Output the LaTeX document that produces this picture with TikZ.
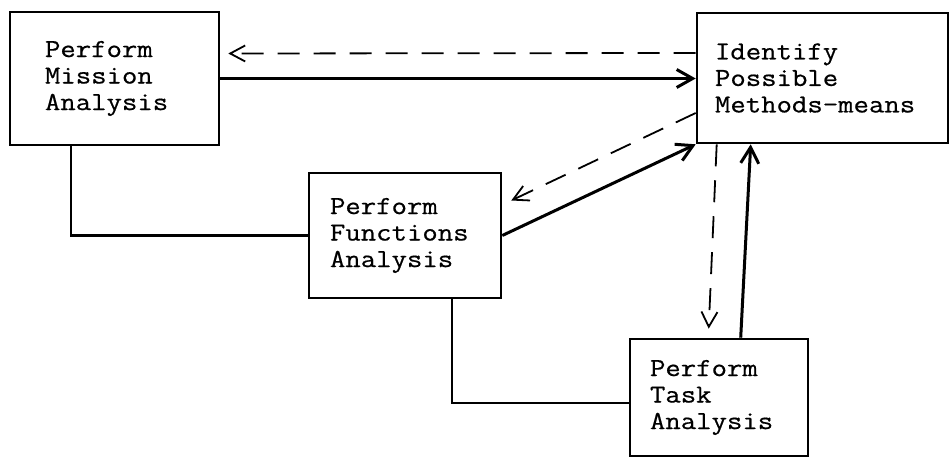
\documentclass[tikz,border=0pt]{standalone}
\usepackage{fontspec}
\newfontfamily\typewriter[FakeStretch=1.15, FakeBold=0.6]{Latin Modern Mono}
\usepackage{tikz}
\usetikzlibrary{arrows.meta}
\usetikzlibrary{calc}
\tikzset{ step_box/.style = {rectangle, draw, line width=2.6pt, align=left, inner ysep=0pt, font=\typewriter\fontsize{26}{26.5}\selectfont} }
\tikzset{ flow/.style = {line width=3pt, -{Straight Barb[length=16pt, width=18pt]}} }
\tikzset{ back_flow/.style = {line width=1.8pt, dash pattern=on 22pt off 14pt, -{Straight Barb[length=15pt, width=16pt]}} }
\tikzset{ link/.style = {line width=2.3pt} }

\begin{document}
\begin{tikzpicture}[x=1pt, y=-1pt]
                        \useasboundingbox (0,0) rectangle (952,457);
                        \node[step_box, text width=139pt, inner xsep=35pt, minimum height=133pt] (mission) at (114.5, 78.5) {Perform\\Mission\\Analysis};
                        \node[step_box, text width=215pt, inner xsep=18pt, minimum height=130pt] (identify) at (822.5, 78) {Identify\\Possible\\Methods-means};
                        \node[step_box, text width=150pt, inner xsep=21pt, minimum height=125pt] (functions) at (405, 235.5) {Perform\\Functions\\Analysis};
                        \node[step_box, text width=138pt, inner xsep=20pt, minimum height=117pt] (task) at (719, 397.5) {Perform\\Task\\Analysis};
                        \draw[flow] (mission.east) to (mission.east -| identify.west);
                        \draw[back_flow] ([yshift=25pt]identify.west) to ([yshift=25pt, xshift=8pt]mission.east);
                        \draw[flow] (functions.east) to (identify.south west);
                        \draw[back_flow] ([yshift=-35pt]identify.west) to ([yshift=35pt, xshift=9pt]functions.east);
                        \draw[back_flow] ([xshift=21pt]identify.south west) to ([xshift=80pt, yshift=9pt]task.north west);
                        \draw[flow] ([xshift=112pt]task.north west) to ([xshift=55pt]identify.south west);
                        \draw[link] ([xshift=62pt]mission.south west) |- (functions.west);
                        \draw[link] ([xshift=144pt]functions.south west) |- ([yshift=-5.5pt]task.west);
                \end{tikzpicture}
\end{document}
